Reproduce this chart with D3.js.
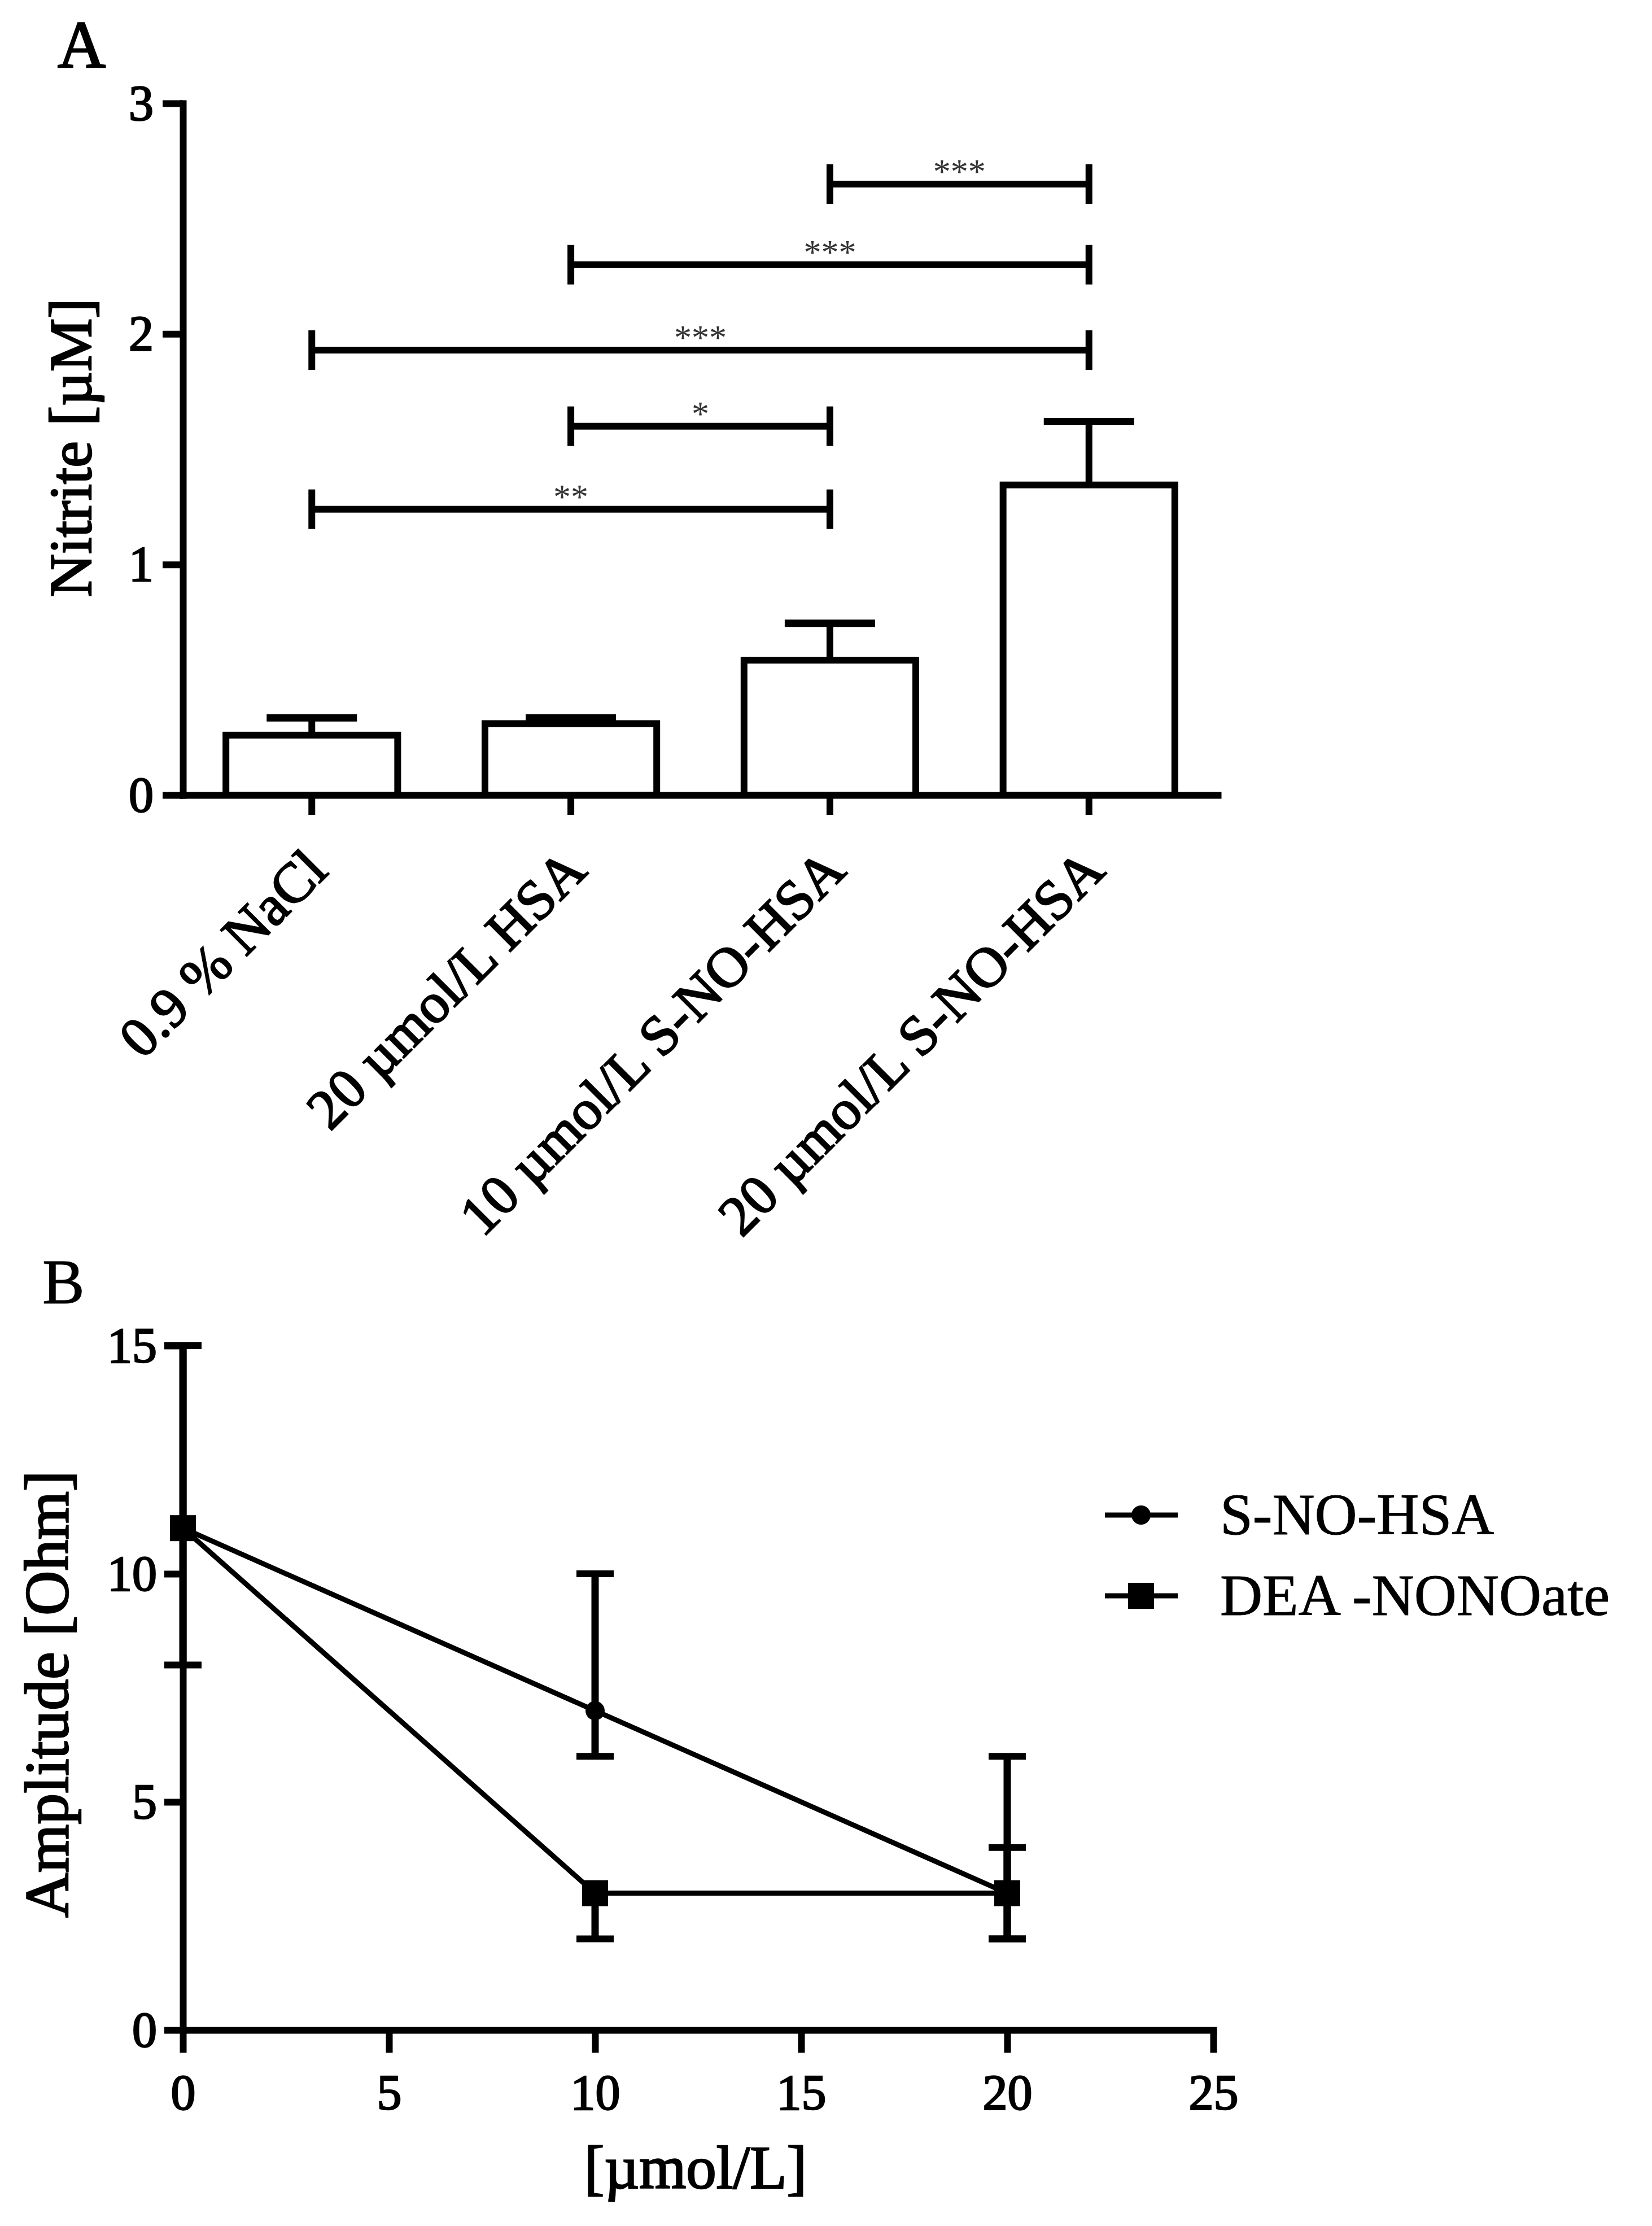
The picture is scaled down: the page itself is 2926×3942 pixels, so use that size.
<!DOCTYPE html>
<html>
<head>
<meta charset="utf-8">
<script src="https://cdn.jsdelivr.net/npm/d3@7"></script>
<style>
  body { margin: 0; background: #fff; }
  text { font-family: 'Liberation Serif', serif; fill: #000; stroke: #000; stroke-width: 2.5px; }
  text.star { stroke: none; }
</style>
</head>
<body>
<div id="chart"></div>
<script>
// Panel A: nitrite release per treatment
var groups = ['0.9 % NaCl', '20 µmol/L HSA', '10 µmol/L S-NO-HSA', '20 µmol/L S-NO-HSA'];
var nitrite = [0.26, 0.31, 0.585, 1.345];
var nitriteTop = [0.335, 0.335, 0.745, 1.62];
var nitriteTicks = [0, 1, 2, 3];

// significance brackets: group index from / to, height (µM), label
var sigFrom = [2, 1, 0, 1, 0];
var sigTo = [3, 3, 3, 2, 2];
var sigLevel = [2.65, 2.30, 1.93, 1.60, 1.24];
var sigLabel = ['***', '***', '***', '*', '**'];

// Panel B: amplitude vs concentration
var dose = [0, 10, 20];
var snoMean = [11, 7, 3];
var snoLow = [8, 6, 2];
var snoHigh = [15, 10, 6];
var deaMean = [11, 3, 3];
var deaLow = [11, 2, 2];
var deaHigh = [11, 3, 4];
var seriesNames = ['S-NO-HSA', 'DEA -NONOate'];
var doseTicks = [0, 5, 10, 15, 20, 25];
var ampTicks = [0, 5, 10, 15];

var W = 2926, H = 3942;
var svg = d3.select('#chart').append('svg')
  .attr('width', W)
  .attr('height', H);
svg.append('rect').attr('width', W).attr('height', H).attr('fill', '#fff');

function styleAxis(g, fs) {
  g.attr('font-family', "'Liberation Serif', serif").attr('font-size', fs);
  g.selectAll('path, line').attr('stroke', '#000').attr('stroke-width', 12);
  g.select('.domain').attr('stroke-linecap', 'square');
  g.selectAll('text').attr('fill', '#000');
}

// ---------- Panel A ----------
var xA = d3.scaleBand()
  .domain(d3.range(groups.length))
  .range([324, 2157])
  .paddingInner(0.337)
  .paddingOuter(0.166);
var yA = d3.scaleLinear().domain([0, 3]).range([1408, 183]);
var cx = i => xA(i) + xA.bandwidth() / 2;

// error bars (upper only)
var gA = svg.append('g');
groups.forEach((g, i) => {
  gA.append('line')
    .attr('x1', cx(i)).attr('x2', cx(i))
    .attr('y1', yA(nitrite[i])).attr('y2', yA(nitriteTop[i]))
    .attr('stroke', '#000').attr('stroke-width', 12);
  gA.append('line')
    .attr('x1', cx(i) - 80).attr('x2', cx(i) + 80)
    .attr('y1', yA(nitriteTop[i])).attr('y2', yA(nitriteTop[i]))
    .attr('stroke', '#000').attr('stroke-width', 13);
});

gA.selectAll('rect.bar')
  .data(nitrite)
  .enter()
  .append('rect')
  .attr('class', 'bar')
  .attr('x', (d, i) => xA(i))
  .attr('y', d => yA(d))
  .attr('width', xA.bandwidth())
  .attr('height', d => yA(0) - yA(d))
  .attr('fill', '#fff')
  .attr('stroke', '#000')
  .attr('stroke-width', 12);

// brackets
sigLabel.forEach((lab, k) => {
  var x1 = cx(sigFrom[k]), x2 = cx(sigTo[k]), y = yA(sigLevel[k]);
  var b = svg.append('g').attr('stroke', '#000').attr('stroke-width', 12);
  b.append('line').attr('x1', x1).attr('x2', x2).attr('y1', y).attr('y2', y);
  b.append('line').attr('x1', x1).attr('x2', x1).attr('y1', y - 35).attr('y2', y + 35);
  b.append('line').attr('x1', x2).attr('x2', x2).attr('y1', y - 35).attr('y2', y + 35);
  svg.append('text')
    .attr('class', 'star')
    .attr('x', (x1 + x2) / 2)
    .attr('y', y - 2)
    .attr('text-anchor', 'middle')
    .style('font-size', '62px')
    .style('fill', '#333')
    .text(lab);
});

// axes
svg.append('g')
  .attr('transform', 'translate(324,0)')
  .call(d3.axisLeft(yA).tickValues(nitriteTicks).tickFormat(d3.format('d'))
    .tickSize(36).tickSizeOuter(0).tickPadding(16))
  .call(g => styleAxis(g, 88));

var xAxisA = svg.append('g')
  .attr('transform', 'translate(0,1408)')
  .call(d3.axisBottom(xA).tickSize(35).tickSizeOuter(0).tickFormat(i => groups[i]))
  .call(g => styleAxis(g, 100));
xAxisA.selectAll('text')
  .attr('x', 0).attr('y', 0).attr('dy', 0)
  .attr('text-anchor', 'end')
  .attr('transform', 'translate(32,138) rotate(-45)');

svg.append('text')
  .attr('x', 102).attr('y', 119)
  .style('font-size', '118px')
  .text('A');

svg.append('text')
  .attr('transform', 'translate(161,793) rotate(-90)')
  .attr('text-anchor', 'middle')
  .style('font-size', '106px')
  .text('Nitrite [µM]');

// ---------- Panel B ----------
var xB = d3.scaleLinear().domain([0, 25]).range([324, 2149]);
var yB = d3.scaleLinear().domain([0, 15]).range([3595, 2383]);

svg.append('g')
  .attr('transform', 'translate(324,0)')
  .call(d3.axisLeft(yB).tickValues(ampTicks).tickSize(33).tickSizeOuter(0).tickPadding(13))
  .call(g => styleAxis(g, 88));

svg.append('g')
  .attr('transform', 'translate(0,3595)')
  .call(d3.axisBottom(xB).tickValues(doseTicks).tickSize(40).tickSizeOuter(0).tickPadding(38))
  .call(g => styleAxis(g, 88));

var line = d3.line()
  .x((d, i) => xB(dose[i]))
  .y(d => yB(d));

var series = [
  {mean: snoMean, low: snoLow, high: snoHigh, shape: 'circle'},
  {mean: deaMean, low: deaLow, high: deaHigh, shape: 'square'}
];

function marker(g, shape, x, y) {
  if (shape === 'circle') {
    g.append('circle').attr('cx', x).attr('cy', y).attr('r', 17).attr('fill', '#000');
  } else {
    g.append('rect').attr('x', x - 23).attr('y', y - 23).attr('width', 46).attr('height', 46).attr('fill', '#000');
  }
}

series.forEach(s => {
  var g = svg.append('g');
  g.append('path')
    .datum(s.mean)
    .attr('d', line)
    .attr('fill', 'none')
    .attr('stroke', '#000')
    .attr('stroke-width', 9);
  dose.forEach((x, i) => {
    [s.low[i], s.high[i]].forEach(e => {
      if (e === s.mean[i]) return;
      g.append('line')
        .attr('x1', xB(x)).attr('x2', xB(x))
        .attr('y1', yB(s.mean[i])).attr('y2', yB(e))
        .attr('stroke', '#000').attr('stroke-width', 13);
      g.append('line')
        .attr('x1', xB(x) - 33).attr('x2', xB(x) + 33)
        .attr('y1', yB(e)).attr('y2', yB(e))
        .attr('stroke', '#000').attr('stroke-width', 12);
    });
    marker(g, s.shape, xB(x), yB(s.mean[i]));
  });
});

// legend
var legY = [2683, 2826];
seriesNames.forEach((name, k) => {
  var g = svg.append('g');
  g.append('line')
    .attr('x1', 1957).attr('x2', 2086)
    .attr('y1', legY[k]).attr('y2', legY[k])
    .attr('stroke', '#000').attr('stroke-width', 9);
  marker(g, series[k].shape, 2021, legY[k]);
  g.append('text')
    .attr('x', 2161).attr('y', legY[k] + 34)
    .style('font-size', '104px')
    .style('stroke-width', '1px')
    .text(name);
});

svg.append('text')
  .attr('x', 75).attr('y', 2308)
  .style('font-size', '112px')
  .style('stroke-width', '1px')
  .text('B');

svg.append('text')
  .attr('transform', 'translate(120,3000) rotate(-90)')
  .attr('text-anchor', 'middle')
  .style('font-size', '110px')
  .text('Amplitude [Ohm]');

svg.append('text')
  .attr('x', 1232).attr('y', 3875)
  .attr('text-anchor', 'middle')
  .style('font-size', '107px')
  .text('[µmol/L]');
</script>
</body>
</html>
